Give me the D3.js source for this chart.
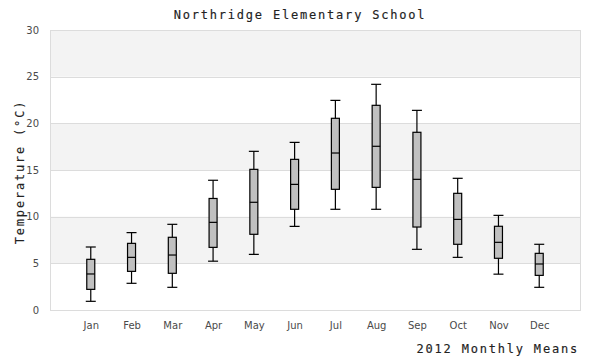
<!DOCTYPE html>
<head>
<meta charset="utf-8">
<script src="https://d3js.org/d3.v7.min.js"></script>
<style>
body { margin: 0; background: #fff; }
.tick text { font-family: "DejaVu Sans", sans-serif; font-size: 10px; fill: #4a4a4a; }
.mono { font-family: "DejaVu Sans Mono", monospace; font-size: 12px; letter-spacing: 1.8px; fill: #222; stroke: #222; stroke-width: 0.15px; }
</style>
</head>
<body>
<svg width="600" height="360"></svg>
<script>
// monthly temperature distribution
var months = ["Jan", "Feb", "Mar", "Apr", "May", "Jun", "Jul", "Aug", "Sep", "Oct", "Nov", "Dec"];
var lowWhisker = [0.93, 2.86, 2.43, 5.23, 5.96, 8.96, 10.79, 10.79, 6.5, 5.64, 3.84, 2.43];
var q1 = [2.21, 4.14, 3.93, 6.71, 8.11, 10.79, 12.93, 13.14, 8.89, 7.04, 5.54, 3.71];
var medians = [3.86, 5.64, 5.89, 9.39, 11.54, 13.46, 16.82, 17.54, 14.0, 9.71, 7.25, 4.93];
var q3 = [5.43, 7.14, 7.79, 11.95, 15.07, 16.14, 20.54, 21.93, 19.04, 12.5, 8.97, 6.07];
var highWhisker = [6.75, 8.29, 9.18, 13.9, 17.0, 17.96, 22.46, 24.18, 21.39, 14.11, 10.14, 7.04];
var yTicks = [0, 5, 10, 15, 20, 25, 30];

var svg = d3.select("svg");
var pLeft = 50, pRight = 580, pTop = 30, pBottom = 310;

var x = d3.scalePoint().domain(months).range([pLeft, pRight]).padding(1);
var y = d3.scaleLinear().domain([0, 30]).range([pBottom, pTop]);

// alternating bands
var bands = [5, 15, 25];
svg.append("g").selectAll("rect")
  .data(bands)
  .enter().append("rect")
  .attr("x", pLeft)
  .attr("width", pRight - pLeft)
  .attr("y", function(d) { return y(d + 5); })
  .attr("height", function(d) { return y(d) - y(d + 5); })
  .attr("fill", "#f3f3f3");

// grid lines
svg.append("g").selectAll("line")
  .data(yTicks)
  .enter().append("line")
  .attr("x1", pLeft).attr("x2", pRight + 1)
  .attr("y1", function(d) { return Math.round(y(d)) + 0.5; })
  .attr("y2", function(d) { return Math.round(y(d)) + 0.5; })
  .attr("stroke", "#dcdcdc");

svg.append("line")
  .attr("x1", pLeft + 0.5).attr("x2", pLeft + 0.5)
  .attr("y1", pTop).attr("y2", pBottom)
  .attr("stroke", "#dcdcdc");
svg.append("line")
  .attr("x1", pRight + 0.5).attr("x2", pRight + 0.5)
  .attr("y1", pTop).attr("y2", pBottom)
  .attr("stroke", "#dcdcdc");

// axes
var yAxis = svg.append("g")
  .attr("transform", "translate(" + (pLeft - 8) + ",0)")
  .call(d3.axisLeft(y).tickValues(yTicks).tickSize(0).tickPadding(3));
yAxis.select(".domain").remove();

var xAxis = svg.append("g")
  .attr("transform", "translate(0," + (pBottom + 9) + ")")
  .call(d3.axisBottom(x).tickSize(0).tickPadding(3));
xAxis.select(".domain").remove();

// boxes
var idx = d3.range(months.length);
var boxW = 8, capW = 10;
var g = svg.append("g").attr("stroke", "#000").attr("stroke-width", 1.2);

g.selectAll(".whisker")
  .data(idx)
  .enter().append("line")
  .attr("x1", function(i) { return x(months[i]); })
  .attr("x2", function(i) { return x(months[i]); })
  .attr("y1", function(i) { return y(lowWhisker[i]); })
  .attr("y2", function(i) { return y(highWhisker[i]); });

g.selectAll(".capHi")
  .data(idx)
  .enter().append("line")
  .attr("x1", function(i) { return x(months[i]) - capW / 2; })
  .attr("x2", function(i) { return x(months[i]) + capW / 2; })
  .attr("y1", function(i) { return y(highWhisker[i]); })
  .attr("y2", function(i) { return y(highWhisker[i]); });

g.selectAll(".capLo")
  .data(idx)
  .enter().append("line")
  .attr("x1", function(i) { return x(months[i]) - capW / 2; })
  .attr("x2", function(i) { return x(months[i]) + capW / 2; })
  .attr("y1", function(i) { return y(lowWhisker[i]); })
  .attr("y2", function(i) { return y(lowWhisker[i]); });

g.selectAll("rect")
  .data(idx)
  .enter().append("rect")
  .attr("x", function(i) { return x(months[i]) - boxW / 2; })
  .attr("width", boxW)
  .attr("y", function(i) { return y(q3[i]); })
  .attr("height", function(i) { return y(q1[i]) - y(q3[i]); })
  .attr("fill", "#c0c0c0");

g.selectAll(".median")
  .data(idx)
  .enter().append("line")
  .attr("x1", function(i) { return x(months[i]) - boxW / 2; })
  .attr("x2", function(i) { return x(months[i]) + boxW / 2; })
  .attr("y1", function(i) { return y(medians[i]); })
  .attr("y2", function(i) { return y(medians[i]); });

// titles
svg.append("text")
  .attr("class", "mono")
  .attr("x", 300).attr("y", 19)
  .attr("text-anchor", "middle")
  .text("Northridge Elementary School");

svg.append("text")
  .attr("class", "mono")
  .attr("transform", "translate(24," + ((pTop + pBottom) / 2 + 2) + ") rotate(-90)")
  .attr("text-anchor", "middle")
  .text("Temperature (°C)");

svg.append("text")
  .attr("class", "mono")
  .attr("x", 579).attr("y", 353)
  .attr("text-anchor", "end")
  .text("2012 Monthly Means");
</script>
</body>
